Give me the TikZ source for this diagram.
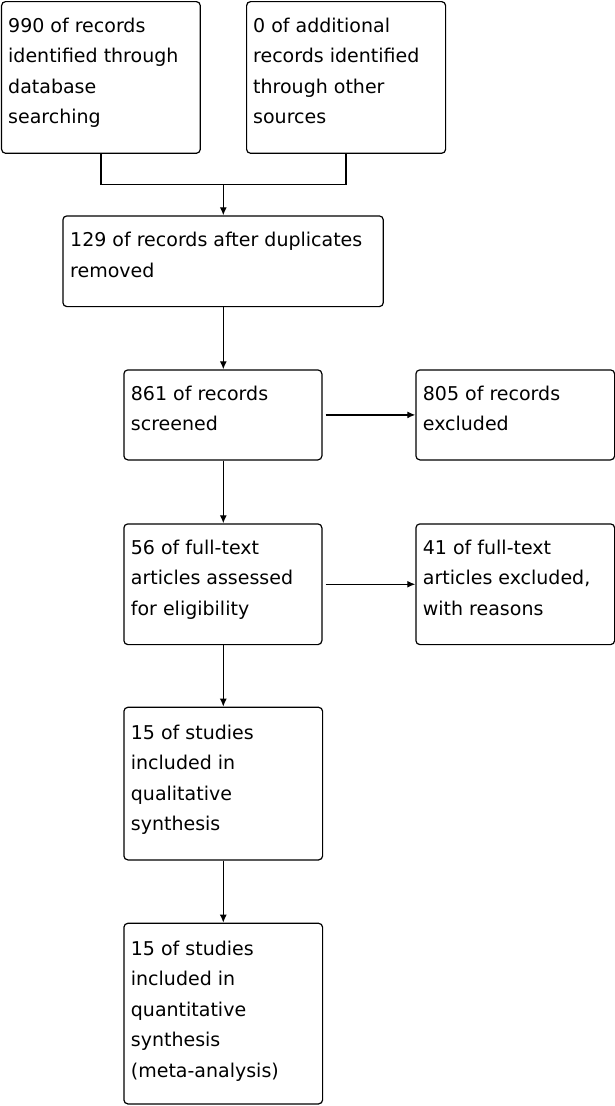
\documentclass[tikz,border=0pt]{standalone}
\usepackage{fontspec}
\setmainfont{DejaVu Sans}
\usetikzlibrary{arrows.meta}

\tikzset{
  box/.style={draw, line width=1.2pt, rounded corners=4pt, anchor=north west, inner sep=0pt},
  txt/.style={anchor=north west, align=left, inner sep=0pt, font=\fontsize{19}{30.5}\selectfont},
  arr/.style={line width=1.3pt, -{Latex[length=8pt,width=7pt]}},
  ln/.style={line width=1.3pt}
}

\begin{document}
\begin{tikzpicture}[x=1pt, y=-1pt]
        \useasboundingbox (0,0) rectangle (615,1106);
        % boxes
        \node[box, minimum width=198.7pt, minimum height=151.7pt] (ident) at (1,1) {};
        \node[box, minimum width=199pt, minimum height=151.7pt] (other) at (246,1) {};
        \node[box, minimum width=320.4pt, minimum height=90.7pt] (dupl) at (62.3,215.3) {};
        \node[box, minimum width=198pt, minimum height=90pt] (screen) at (123.3,369.3) {};
        \node[box, minimum width=198.7pt, minimum height=90pt] (excl) at (415.3,369.3) {};
        \node[box, minimum width=198pt, minimum height=120.7pt] (full) at (123.3,523.3) {};
        \node[box, minimum width=198.7pt, minimum height=120.7pt] (fullex) at (415.3,523.3) {};
        \node[box, minimum width=198.7pt, minimum height=152.6pt] (qual) at (123.3,706.7) {};
        \node[box, minimum width=198.7pt, minimum height=180.6pt] (quant) at (123.3,922.7) {};
        % texts
        \node[txt] (identtxt) at ([shift={(7,9.6)}]ident.north west) {\strut 990 of records\\identified through\\database\\searching};
        \node[txt] (othertxt) at ([shift={(7,9.6)}]other.north west) {\strut 0 of additional\\records identified\\through other\\sources};
        \node[txt] (dupltxt) at ([shift={(7.7,10)}]dupl.north west) {\strut 129 of records after duplicates\\removed};
        \node[txt] (screentxt) at ([shift={(7.4,9.5)}]screen.north west) {\strut 861 of records\\screened};
        \node[txt] (excltxt) at ([shift={(7.4,9.5)}]excl.north west) {\strut 805 of records\\excluded};
        \node[txt] (fulltxt) at ([shift={(7.4,9.5)}]full.north west) {\strut 56 of full-text\\articles assessed\\for eligibility};
        \node[txt] (fullextxt) at ([shift={(7.4,9.5)}]fullex.north west) {\strut 41 of full-text\\articles excluded,\\with reasons};
        \node[txt] (qualtxt) at ([shift={(7.4,11)}]qual.north west) {\strut 15 of studies\\included in\\qualitative\\synthesis};
        \node[txt] (quanttxt) at ([shift={(7.4,11)}]quant.north west) {\strut 15 of studies\\included in\\quantitative\\synthesis\\(meta-analysis)};
        % connectors
        \coordinate (join) at (223.3,184.3);
        \draw[ln] (ident.south) |- (join) -| (other.south);
        \draw[arr] (join) -- (join |- dupl.north);
        \draw[arr] (dupl.south -| join) -- (join |- screen.north);
        \draw[arr] ([xshift=3pt]screen.east) -- (screen.east -| excl.west);
        \draw[arr] (screen.south -| join) -- (join |- full.north);
        \draw[arr] ([xshift=3pt]full.east) -- (full.east -| fullex.west);
        \draw[arr] (full.south -| join) -- (join |- qual.north);
        \draw[arr] (qual.south -| join) -- (join |- quant.north);
    \end{tikzpicture}
\end{document}
